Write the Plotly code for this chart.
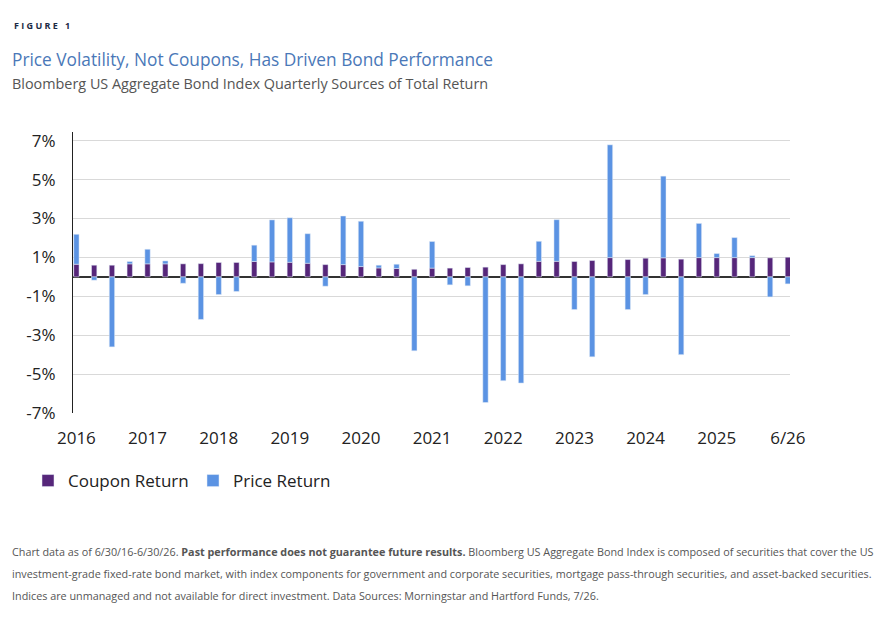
import plotly.graph_objects as go

# quarterly sources of return, 6/30/16 - 6/30/26 (percent)
quarters = list(range(41))
coupon_return = [
    0.65, 0.60, 0.60, 0.67, 0.67, 0.67, 0.67, 0.68, 0.74, 0.74,
    0.79, 0.77, 0.75, 0.70, 0.63, 0.63, 0.53, 0.46, 0.43, 0.39,
    0.45, 0.45, 0.48, 0.50, 0.63, 0.67, 0.80, 0.80, 0.79, 0.84,
    0.99, 0.89, 0.96, 0.98, 0.91, 0.99, 0.99, 0.99, 0.99, 0.98,
    1.01,
]
price_return = [
    1.54, -0.17, -3.60, 0.12, 0.75, 0.15, -0.33, -2.19, -0.91, -0.75,
    0.84, 2.16, 2.29, 1.52, -0.48, 2.50, 2.33, 0.14, 0.22, -3.80,
    1.37, -0.41, -0.46, -6.46, -5.34, -5.46, 1.03, 2.14, -1.68, -4.11,
    5.80, -1.68, -0.91, 4.20, -4.00, 1.76, 0.21, 1.03, 0.10, -1.03,
    -0.36,
]
tick_positions = [0, 4, 8, 12, 16, 20, 24, 28, 32, 36, 40]
tick_labels = ["2016", "2017", "2018", "2019", "2020", "2021",
               "2022", "2023", "2024", "2025", "6/26"]
y_ticks = [7, 5, 3, 1, -1, -3, -5, -7]

W, H = 889, 619
L, R, T, B = 73, 99, 132, 206
FONT = "Open Sans"


def paper_x(px):
    return (px - L) / (W - L - R)


def paper_y(py):
    return (H - B - py) / (H - T - B)


fig = go.Figure()
fig.add_trace(go.Bar(x=quarters, y=coupon_return, name="Coupon Return",
                     marker_color="#56267a", width=0.3))
fig.add_trace(go.Bar(x=quarters, y=price_return, name="Price Return",
                     marker_color="#5b93e3", width=0.3))

fig.update_layout(
    width=W, height=H,
    margin=dict(l=L, r=R, t=T, b=B),
    barmode="relative",
    plot_bgcolor="white",
    paper_bgcolor="white",
    font=dict(family=FONT, size=17, color="#222222"),
    legend=dict(
        orientation="h", x=paper_x(28), xanchor="left",
        y=paper_y(481), yanchor="middle",
        font=dict(size=17, color="#222222"),
        entrywidth=120, traceorder="normal",
    ),
    xaxis=dict(
        range=[-0.19, 40.12],
        tickvals=tick_positions, ticktext=tick_labels,
        showgrid=False, zeroline=False, showline=False,
        ticks="outside", ticklen=10, tickcolor="rgba(0,0,0,0)",
    ),
    yaxis=dict(
        range=[-7, 7.45],
        tickvals=y_ticks, ticktext=[f"{v}%" for v in y_ticks],
        showgrid=True, gridcolor="#d9d9d9", gridwidth=1,
        zeroline=True, zerolinecolor="#333333", zerolinewidth=1.5,
        showline=True, linecolor="#222222", linewidth=1,
        ticks="outside", ticklen=13, tickcolor="rgba(0,0,0,0)",
    ),
)

annotations = [
    dict(text="<b>F I G U R E   1</b>", px=12, py=25, size=9, color="#1b2a44"),
    dict(text="Price Volatility, Not Coupons, Has Driven Bond Performance",
         px=10, py=60, size=17.3, color="#4a78b8"),
    dict(text="Bloomberg US Aggregate Bond Index Quarterly Sources of Total Return",
         px=10, py=83, size=14.4, color="#555555"),
    dict(text="Chart data as of 6/30/16-6/30/26. <b>Past performance does not guarantee future results.</b> "
              "Bloomberg US Aggregate Bond Index is composed of securities that cover the US",
         px=10, py=551, size=10.8, color="#555555"),
    dict(text="investment-grade fixed-rate bond market, with index components for government and corporate "
              "securities, mortgage pass-through securities, and asset-backed securities.",
         px=10, py=573, size=10.8, color="#555555"),
    dict(text="Indices are unmanaged and not available for direct investment. "
              "Data Sources: Morningstar and Hartford Funds, 7/26.",
         px=10, py=595, size=10.8, color="#555555"),
]
for a in annotations:
    fig.add_annotation(
        text=a["text"], xref="paper", yref="paper",
        x=paper_x(a["px"]), y=paper_y(a["py"]),
        xanchor="left", yanchor="middle", showarrow=False,
        font=dict(family=FONT, size=a["size"], color=a["color"]),
    )

config = {
    'displayModeBar': False,
    'responsive': False,
}

# drop the default page margin so the figure sits at the window corner
fig.write_html("out.html", config=config,
               post_script="document.body.style.margin='0px';")
